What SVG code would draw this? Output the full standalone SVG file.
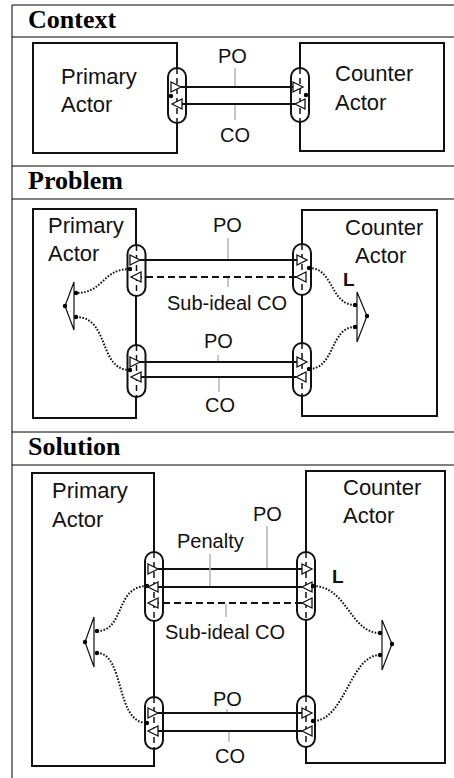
<svg xmlns="http://www.w3.org/2000/svg" width="454" height="778" viewBox="0 0 454 778">
  <style>
    .frame { stroke: #000; stroke-width: 1; fill: none; }
    .hdr { font-family: "Liberation Serif", "Times New Roman", serif; font-weight: bold; font-size: 26px; fill: #000; }
    .actor { fill: #fff; stroke: #111; stroke-width: 2; }
    .name { font-family: "Liberation Sans", Arial, sans-serif; font-size: 22px; fill: #111; }
    .lbl { font-family: "Liberation Sans", Arial, sans-serif; font-size: 20px; fill: #111; }
    .L { font-family: "Liberation Sans", Arial, sans-serif; font-size: 19px; font-weight: bold; fill: #111; }
    .port { fill: #fff; stroke: #111; stroke-width: 2; }
    .edge { stroke: #111; stroke-width: 1.5; stroke-dasharray: 6 4; fill: none; }
    .msg { stroke: #111; stroke-width: 2; fill: none; }
    .sub { stroke-dasharray: 7 4; }
    .tick { stroke: #b4b4b4; stroke-width: 1.5; }
    .dot { fill: #000; }
    .link { stroke: #111; stroke-width: 2; stroke-dasharray: 1.6 1.6; fill: none; }
    .fork { stroke: #111; stroke-width: 1.2; fill: #fff; }
  </style>
  <defs>
    <!-- open triangle placed past the end of a message line -->
    <marker id="head" markerUnits="userSpaceOnUse" markerWidth="12" markerHeight="12" refX="0.5" refY="5.5" orient="auto" overflow="visible">
      <path d="M0.5,0.5 L10.5,5.5 L0.5,10.5 Z" fill="#fff" stroke="#111" stroke-width="1.3"/>
    </marker>
    <!-- open triangle ending at the start of a message line -->
    <marker id="tail" markerUnits="userSpaceOnUse" markerWidth="12" markerHeight="12" refX="10.5" refY="5.5" orient="auto" overflow="visible">
      <path d="M0.5,0.5 L10.5,5.5 L0.5,10.5 Z" fill="#fff" stroke="#111" stroke-width="1.3"/>
    </marker>
  </defs>

  <rect width="454" height="778" fill="#fff"/>

  <!-- table frame and section headers -->
  <g id="frame">
    <line class="frame" x1="12" y1="5" x2="12" y2="778"/>
    <line class="frame" x1="12" y1="5" x2="454" y2="5"/>
    <line class="frame" x1="12" y1="37" x2="454" y2="37"/>
    <line class="frame" x1="12" y1="166" x2="454" y2="166"/>
    <line class="frame" x1="12" y1="199" x2="454" y2="199"/>
    <line class="frame" x1="12" y1="432" x2="454" y2="432"/>
    <line class="frame" x1="12" y1="465" x2="454" y2="465"/>
    <text class="hdr" x="28" y="28">Context</text>
    <text class="hdr" x="28" y="189">Problem</text>
    <text class="hdr" x="28" y="455">Solution</text>
  </g>

  <!-- ===== Context ===== -->
  <g id="ctx-primary">
    <rect class="actor" x="33" y="43" width="144" height="110"/>
    <text class="name" x="61" y="84">Primary</text>
    <text class="name" x="61" y="112">Actor</text>
  </g>
  <g id="ctx-counter">
    <rect class="actor" x="300" y="43" width="144" height="108"/>
    <text class="name" x="335" y="81">Counter</text>
    <text class="name" x="335" y="110">Actor</text>
  </g>
  <g id="ctx-port-primary">
    <rect class="port" x="168" y="68" width="18" height="55" rx="9"/>
    <line class="edge" x1="177" y1="68" x2="177" y2="123"/>
  </g>
  <g id="ctx-port-counter">
    <rect class="port" x="291" y="68" width="18" height="54" rx="9"/>
    <line class="edge" x1="300" y1="68" x2="300" y2="122"/>
  </g>

  <!-- ===== Problem ===== -->
  <g id="prb-primary">
    <rect class="actor" x="33" y="209" width="103" height="209"/>
    <text class="name" x="48" y="233">Primary</text>
    <text class="name" x="48" y="261">Actor</text>
  </g>
  <g id="prb-counter">
    <rect class="actor" x="302" y="210" width="135" height="206"/>
    <text class="name" x="345" y="235">Counter</text>
    <text class="name" x="355" y="263">Actor</text>
  </g>
  <g id="prb-port-primary-1">
    <rect class="port" x="127.5" y="245" width="18" height="51" rx="9"/>
    <line class="edge" x1="136.5" y1="245" x2="136.5" y2="296"/>
  </g>
  <g id="prb-port-counter-1">
    <rect class="port" x="293" y="244" width="18" height="51" rx="9"/>
    <line class="edge" x1="302" y1="244" x2="302" y2="295"/>
  </g>
  <g id="prb-port-primary-2">
    <rect class="port" x="127.5" y="345" width="18" height="52" rx="9"/>
    <line class="edge" x1="136.5" y1="345" x2="136.5" y2="397"/>
  </g>
  <g id="prb-port-counter-2">
    <rect class="port" x="293" y="343" width="18" height="53" rx="9"/>
    <line class="edge" x1="302" y1="343" x2="302" y2="396"/>
  </g>
  <g id="prb-fork-primary">
    <path class="fork" d="M74,282 L65,306 L74,330 Z"/>
  </g>
  <g id="prb-fork-counter">
    <path class="fork" d="M357,292 L367,316 L357,342 Z"/>
  </g>

  <!-- ===== Solution ===== -->
  <g id="sol-primary">
    <rect class="actor" x="32" y="473" width="122" height="293"/>
    <text class="name" x="52" y="498">Primary</text>
    <text class="name" x="52" y="527">Actor</text>
  </g>
  <g id="sol-counter">
    <rect class="actor" x="306" y="471" width="139" height="292"/>
    <text class="name" x="343" y="495">Counter</text>
    <text class="name" x="343" y="523">Actor</text>
  </g>
  <g id="sol-port-primary-1">
    <rect class="port" x="145" y="552" width="18" height="69" rx="9"/>
    <line class="edge" x1="154" y1="552" x2="154" y2="621"/>
  </g>
  <g id="sol-port-counter-1">
    <rect class="port" x="297" y="552" width="18" height="68" rx="9"/>
    <line class="edge" x1="306" y1="552" x2="306" y2="620"/>
  </g>
  <g id="sol-port-primary-2">
    <rect class="port" x="145" y="697" width="18" height="52" rx="9"/>
    <line class="edge" x1="154" y1="697" x2="154" y2="749"/>
  </g>
  <g id="sol-port-counter-2">
    <rect class="port" x="297" y="696" width="18" height="51" rx="9"/>
    <line class="edge" x1="306" y1="696" x2="306" y2="747"/>
  </g>
  <g id="sol-fork-primary">
    <path class="fork" d="M94,617 L85,642 L94,667 Z"/>
  </g>
  <g id="sol-fork-counter">
    <path class="fork" d="M382,620 L392,644 L382,670 Z"/>
  </g>

  <!-- connectors: messages, label ticks, dotted links -->
  <g id="connectors">
    <!-- Context -->
    <line class="msg" x1="181" y1="87" x2="293" y2="87" marker-start="url(#tail)" marker-end="url(#head)"/>
    <line class="msg" x1="295" y1="104" x2="182" y2="104" marker-start="url(#tail)" marker-end="url(#head)"/>
    <line class="tick" x1="235" y1="68" x2="235" y2="86"/>
    <line class="tick" x1="235" y1="105" x2="235" y2="120"/>
    <circle class="dot" cx="171" cy="96" r="2.2"/>
    <circle class="dot" cx="306" cy="95" r="2.2"/>

    <!-- Problem -->
    <line class="msg" x1="140" y1="260" x2="297" y2="260" marker-start="url(#tail)" marker-end="url(#head)"/>
    <line class="msg sub" x1="296" y1="277" x2="141" y2="277" marker-start="url(#tail)" marker-end="url(#head)"/>
    <line class="tick" x1="228" y1="238" x2="228" y2="259"/>
    <line class="tick" x1="228" y1="278" x2="228" y2="287"/>
    <line class="msg" x1="140" y1="362" x2="297" y2="362" marker-start="url(#tail)" marker-end="url(#head)"/>
    <line class="msg" x1="296" y1="377" x2="141" y2="377" marker-start="url(#tail)" marker-end="url(#head)"/>
    <line class="tick" x1="218" y1="355" x2="218" y2="361"/>
    <line class="tick" x1="219" y1="378" x2="219" y2="392"/>
    <path class="link" d="M130,269 C102,269 104,293 76,293"/>
    <path class="link" d="M76,317 C110,317 98,370 130,370"/>
    <path class="link" d="M309,268 C334,268 330,305 355,305"/>
    <path class="link" d="M355,327 C330,327 335,369 309,369"/>
    <circle class="dot" cx="130" cy="269" r="2.2"/>
    <circle class="dot" cx="309" cy="268" r="2.2"/>
    <circle class="dot" cx="130" cy="370" r="2.2"/>
    <circle class="dot" cx="309" cy="369" r="2.2"/>
    <circle class="dot" cx="76" cy="293" r="2.2"/>
    <circle class="dot" cx="76" cy="317" r="2.2"/>
    <circle class="dot" cx="65" cy="306" r="2.2"/>
    <circle class="dot" cx="355" cy="305" r="2.2"/>
    <circle class="dot" cx="355" cy="327" r="2.2"/>
    <circle class="dot" cx="367" cy="316" r="2.2"/>

    <!-- Solution -->
    <line class="msg" x1="158" y1="569" x2="302" y2="569" marker-start="url(#tail)" marker-end="url(#head)"/>
    <line class="msg" x1="302" y1="587" x2="158" y2="587" marker-start="url(#tail)" marker-end="url(#head)"/>
    <line class="msg sub" x1="302" y1="603" x2="158" y2="603" marker-start="url(#tail)" marker-end="url(#head)"/>
    <line class="tick" x1="267" y1="526" x2="267" y2="568"/>
    <line class="tick" x1="210" y1="554" x2="210" y2="586"/>
    <line class="tick" x1="226" y1="604" x2="226" y2="617"/>
    <line class="msg" x1="158" y1="713" x2="302" y2="713" marker-start="url(#tail)" marker-end="url(#head)"/>
    <line class="msg" x1="302" y1="731" x2="158" y2="731" marker-start="url(#tail)" marker-end="url(#head)"/>
    <line class="tick" x1="227" y1="709" x2="227" y2="712"/>
    <line class="tick" x1="229" y1="732" x2="229" y2="742"/>
    <path class="link" d="M147,586 C115,586 125,631 97,631"/>
    <path class="link" d="M97,653 C125,653 115,723 147,723"/>
    <path class="link" d="M313,586 C347,586 350,633 380,633"/>
    <path class="link" d="M380,655 C350,655 345,721 313,721"/>
    <circle class="dot" cx="147" cy="586" r="2.2"/>
    <circle class="dot" cx="313" cy="586" r="2.2"/>
    <circle class="dot" cx="147" cy="723" r="2.2"/>
    <circle class="dot" cx="313" cy="721" r="2.2"/>
    <circle class="dot" cx="97" cy="631" r="2.2"/>
    <circle class="dot" cx="97" cy="653" r="2.2"/>
    <circle class="dot" cx="85" cy="642" r="2.2"/>
    <circle class="dot" cx="380" cy="633" r="2.2"/>
    <circle class="dot" cx="380" cy="655" r="2.2"/>
    <circle class="dot" cx="392" cy="644" r="2.2"/>
  </g>

  <!-- message labels -->
  <g id="labels">
    <text class="lbl" x="218" y="63">PO</text>
    <text class="lbl" x="220" y="142">CO</text>
    <text class="lbl" x="213" y="232">PO</text>
    <text class="lbl" x="167" y="310">Sub-ideal CO</text>
    <text class="L" x="343" y="286">L</text>
    <text class="lbl" x="204" y="348">PO</text>
    <text class="lbl" x="205" y="412">CO</text>
    <text class="lbl" x="253" y="521">PO</text>
    <text class="lbl" x="177" y="548">Penalty</text>
    <text class="lbl" x="165" y="639">Sub-ideal CO</text>
    <text class="L" x="332" y="583">L</text>
    <text class="lbl" x="213" y="706">PO</text>
    <text class="lbl" x="215" y="763">CO</text>
  </g>
</svg>
